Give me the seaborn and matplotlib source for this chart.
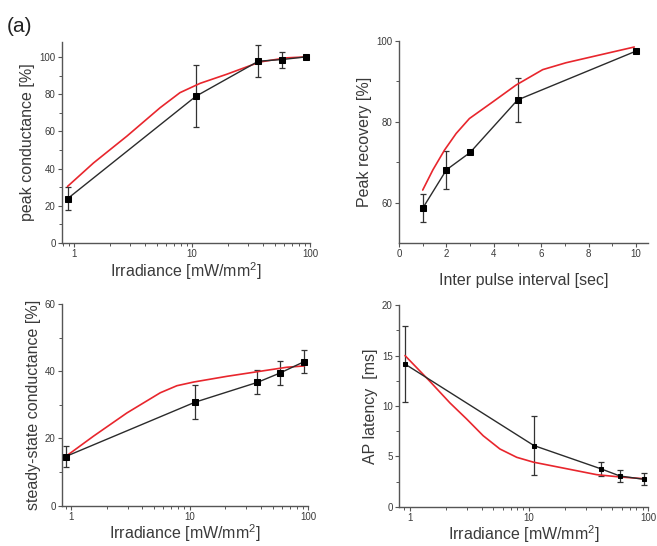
import numpy as np
import pandas as pd
import seaborn as sns
import matplotlib.pyplot as plt
from matplotlib.ticker import LogLocator, NullFormatter, MultipleLocator, FixedLocator

sns.set_style('ticks')
plt.rcParams['font.family'] = ['Liberation Sans', 'DejaVu Sans']
plt.rcParams['mathtext.fontset'] = 'custom'
plt.rcParams['mathtext.rm'] = 'Liberation Sans'

text_col = '#3a3a3a'
data_col = '#2b2b2b'
fit_col = '#e8262d'

# (1) peak conductance vs irradiance
pk_x = [0.88, 10.8, 36.5, 58, 92]
pk_y = [23.8, 78.9, 97.7, 98.6, 100.0]
pk_err = [6.3, 16.6, 8.7, 4.3, 0.5]
pk_fit_x = [0.88, 1.46, 2.8, 5.36, 7.9, 11.7, 19.7, 37.7, 63, 92]
pk_fit_y = [30.4, 43, 57.4, 72.7, 80.8, 85.8, 90.7, 97.3, 99.5, 100]

# (2) peak recovery vs inter pulse interval
rec_x = [1, 2, 3, 5, 10]
rec_y = [58.6, 68.1, 72.4, 85.4, 97.5]
rec_err = [3.4, 4.75, 0.0, 5.35, 0.0]
rec_fit_x = [1.0, 1.43, 1.92, 2.41, 2.97, 3.95, 4.94, 6.06, 7.04, 8.44, 9.92]
rec_fit_y = [63.1, 68.1, 73.0, 77.1, 80.8, 84.9, 89.1, 92.9, 94.6, 96.5, 98.5]

# (3) steady-state conductance vs irradiance
ss_x = [0.9, 11.1, 37.2, 57.8, 92.5]
ss_y = [14.6, 30.8, 36.7, 39.5, 42.9]
ss_err = [3.0, 5.0, 3.6, 3.6, 3.5]
ss_fit_x = [0.9, 1.55, 2.96, 5.65, 7.8, 10.8, 20.6, 39.2, 65.8, 92.5]
ss_fit_y = [14.6, 20.7, 27.6, 33.6, 35.7, 36.8, 38.5, 40.0, 41.2, 41.6]

# (4) AP latency vs irradiance
ap_x = [0.91, 11, 40, 58, 92]
ap_y = [14.16, 6.07, 3.77, 3.05, 2.72]
ap_err = [3.75, 2.95, 0.7, 0.6, 0.6]
ap_fit_x = [0.91, 1.47, 2.17, 3.0, 4.13, 5.7, 7.9, 10.9, 20.7, 37, 58, 92]
ap_fit_y = [15.0, 12.45, 10.3, 8.7, 7.04, 5.73, 4.9, 4.42, 3.77, 3.18, 2.95, 2.78]

irr_label = r'Irradiance [mW/mm$^{\mathregular{2}}$]'

fig = plt.figure(figsize=(6.57, 5.46), dpi=100)
ax_tl = fig.add_axes([0.0944, 0.555, 0.3775, 0.368])
ax_tr = fig.add_axes([0.6073, 0.555, 0.379, 0.370])
ax_bl = fig.add_axes([0.0944, 0.074, 0.375, 0.369])
ax_br = fig.add_axes([0.6073, 0.072, 0.379, 0.369])

panels = [
    (ax_tl, pk_x, pk_y, pk_err, pk_fit_x, pk_fit_y, 'peak conductance [%]', irr_label, True, 5, 1),
    (ax_tr, rec_x, rec_y, rec_err, rec_fit_x, rec_fit_y, 'Peak recovery [%]', 'Inter pulse interval [sec]', False, 5, 10),
    (ax_bl, ss_x, ss_y, ss_err, ss_fit_x, ss_fit_y, 'steady-state conductance [%]', irr_label, True, 5, 0),
    (ax_br, ap_x, ap_y, ap_err, ap_fit_x, ap_fit_y, 'AP latency  [ms]', irr_label, True, 3, 0),
]

for ax, x, y, err, fx, fy, ylab, xlab, logx, ms, xpad in panels:
    sns.lineplot(x=fx, y=fy, ax=ax, color=fit_col, lw=1.2, zorder=3)
    sns.lineplot(x=x, y=y, ax=ax, color=data_col, lw=1.0, marker='s', markersize=ms,
                 markeredgecolor='black', markerfacecolor='black', zorder=4)
    ax.errorbar(x, y, yerr=err, fmt='none', ecolor='#333333', elinewidth=0.9,
                capsize=2.5, capthick=0.9, zorder=2)
    ax.set_ylabel(ylab, fontsize=11.5, color=text_col, labelpad=3)
    ax.set_xlabel(xlab, fontsize=11.5, color=text_col, labelpad=xpad)
    for s in ['top', 'right']:
        ax.spines[s].set_visible(False)
    for s in ['left', 'bottom']:
        ax.spines[s].set_color('#555555')
        ax.spines[s].set_linewidth(1.0)
    ax.tick_params(which='major', length=3, width=0.8, colors='#555555', labelsize=7,
                   labelcolor=text_col, pad=1.5)
    ax.tick_params(which='minor', length=2, width=0.7, colors='#555555')
    if logx:
        ax.set_xscale('log')
        ax.xaxis.set_major_locator(FixedLocator([1, 10, 100]))
        ax.xaxis.set_major_formatter(plt.FuncFormatter(lambda v, p: f'{v:g}'))
        ax.xaxis.set_minor_locator(LogLocator(base=10, subs=np.arange(2, 10)))
        ax.xaxis.set_minor_formatter(NullFormatter())

ax_tl.set_xlim(0.79, 100)
ax_tl.set_ylim(0, 108)
ax_tl.yaxis.set_major_locator(MultipleLocator(20))
ax_tl.yaxis.set_minor_locator(MultipleLocator(10))

ax_tr.set_xlim(0, 10.5)
ax_tr.set_ylim(50, 100)
ax_tr.xaxis.set_major_locator(MultipleLocator(2))
ax_tr.xaxis.set_minor_locator(MultipleLocator(1))
ax_tr.yaxis.set_major_locator(FixedLocator([60, 80, 100]))
ax_tr.yaxis.set_minor_locator(FixedLocator([70, 90]))

ax_bl.set_xlim(0.84, 100)
ax_bl.set_ylim(0, 60)
ax_bl.yaxis.set_major_locator(MultipleLocator(20))
ax_bl.yaxis.set_minor_locator(MultipleLocator(10))

ax_br.set_xlim(0.81, 100)
ax_br.set_ylim(0, 20)
ax_br.yaxis.set_major_locator(MultipleLocator(5))
ax_br.yaxis.set_minor_locator(MultipleLocator(2.5))

fig.text(0.011, 0.951, '(a)', fontsize=15, color='#222222', va='center')

fig.savefig('out.png', dpi=100)
